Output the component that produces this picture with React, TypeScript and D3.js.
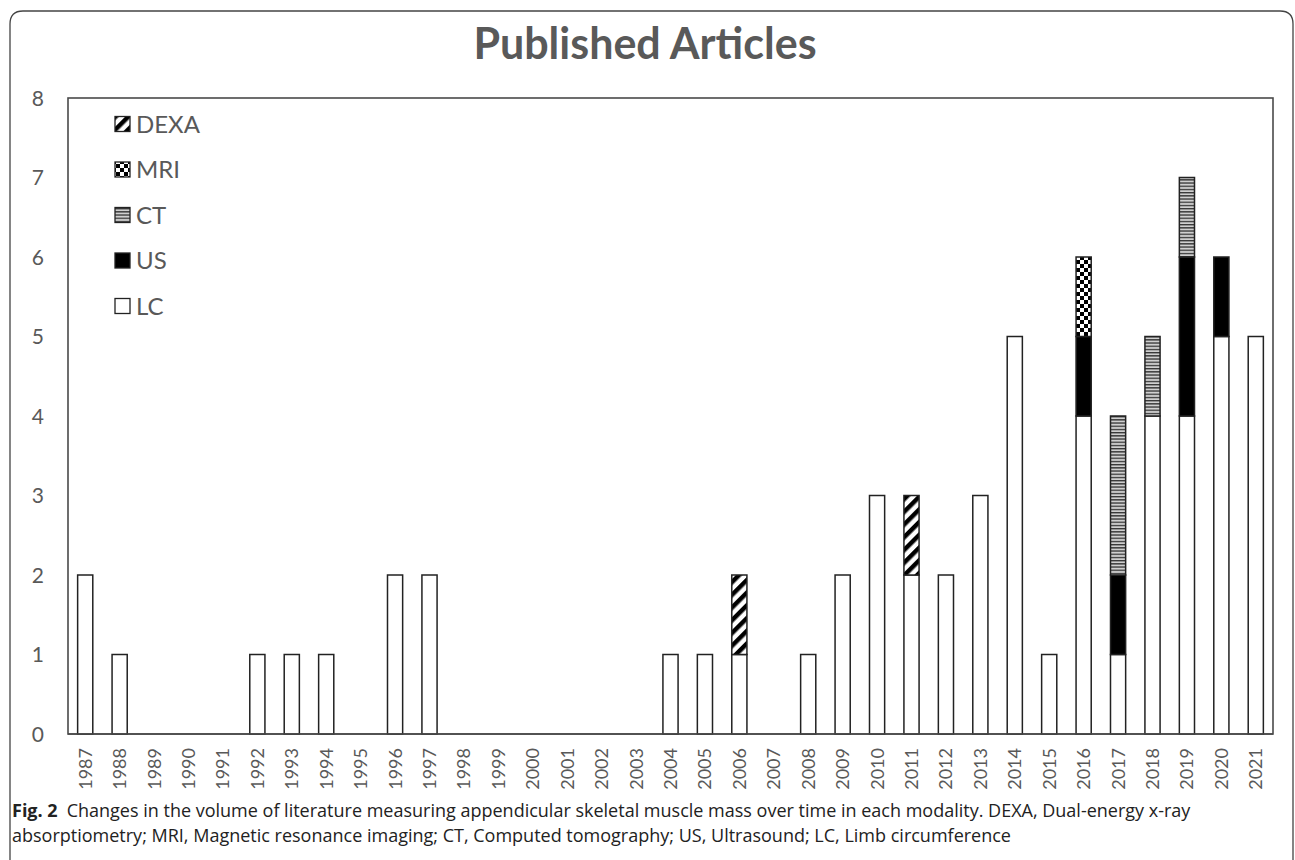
import React from "react";
import * as d3 from "d3";

const years = ["1987","1988","1989","1990","1991","1992","1993","1994","1995","1996","1997","1998","1999","2000","2001","2002","2003","2004","2005","2006","2007","2008","2009","2010","2011","2012","2013","2014","2015","2016","2017","2018","2019","2020","2021"];
const LC   = [2,1,0,0,0,1,1,1,0,2,2,0,0,0,0,0,0,1,1,1,0,1,2,3,2,2,3,5,1,4,1,4,4,5,5];
const US   = [0,0,0,0,0,0,0,0,0,0,0,0,0,0,0,0,0,0,0,0,0,0,0,0,0,0,0,0,0,1,1,0,2,1,0];
const CT   = [0,0,0,0,0,0,0,0,0,0,0,0,0,0,0,0,0,0,0,0,0,0,0,0,0,0,0,0,0,0,2,1,1,0,0];
const MRI  = [0,0,0,0,0,0,0,0,0,0,0,0,0,0,0,0,0,0,0,0,0,0,0,0,0,0,0,0,0,1,0,0,0,0,0];
const DEXA = [0,0,0,0,0,0,0,0,0,0,0,0,0,0,0,0,0,0,0,1,0,0,0,0,1,0,0,0,0,0,0,0,0,0,0];
const seriesKeys = ["LC", "US", "CT", "MRI", "DEXA"];
const legendKeys = ["DEXA", "MRI", "CT", "US", "LC"];
const yTicks = [0, 1, 2, 3, 4, 5, 6, 7, 8];
const title = "Published Articles";
const captionBold = "Fig. 2";
const captionLine1 = "Changes in the volume of literature measuring appendicular skeletal muscle mass over time in each modality. DEXA, Dual-energy x-ray";
const captionLine2 = "absorptiometry; MRI, Magnetic resonance imaging; CT, Computed tomography; US, Ultrasound; LC, Limb circumference";

const fills: Record<string, string> = {
  LC: "#ffffff",
  US: "#000000",
  CT: "url(#pCT)",
  MRI: "url(#pMRI)",
  DEXA: "url(#pDEXA)",
};

export default function App() {
  const W = 1295, H = 860;
  const left = 68, right = 1273, top = 98, bottom = 734;
  const x = d3.scaleBand<string>().domain(years).range([left, right]).paddingInner(0.56).paddingOuter(0.28);
  const y = d3.scaleLinear().domain([0, 8]).range([bottom, top]);
  const table = years.map((yr, i) => ({ year: yr, LC: LC[i], US: US[i], CT: CT[i], MRI: MRI[i], DEXA: DEXA[i] }));
  const stacked = d3.stack<any>().keys(seriesKeys)(table);
  const gray = "#595959";
  const chartFont = "Lato, 'Open Sans', sans-serif";
  const capFont = "'Open Sans', 'Noto Sans', sans-serif";

  return (
    <div style={{ position: "absolute", left: 0, top: 0 }}>
      <svg width={W} height={H} viewBox={`0 0 ${W} ${H}`} style={{ display: "block", background: "#fff" }}>
        <defs>
          <pattern id="pDEXA" patternUnits="userSpaceOnUse" width="9" height="9" patternTransform="rotate(45)">
            <rect width="9" height="9" fill="#fff" />
            <rect width="4.5" height="9" fill="#000" />
          </pattern>
          <pattern id="pMRI" patternUnits="userSpaceOnUse" width="8" height="8">
            <rect width="8" height="8" fill="#fff" />
            <rect width="4" height="4" fill="#000" />
            <rect x="4" y="4" width="4" height="4" fill="#000" />
          </pattern>
          <pattern id="pCT" patternUnits="userSpaceOnUse" width="6" height="3.2">
            <rect width="6" height="3.2" fill="#cfcfcf" />
            <rect y="0" width="6" height="1.3" fill="#333" />
          </pattern>
        </defs>

        {/* outer rounded border */}
        <path d={`M10,${H} L10,24 Q10,11 23,11 L1280,11 Q1293,11 1293,24 L1293,${H}`} fill="none" stroke="#444" strokeWidth={1.3} />

        {/* title */}
        <text x={645} y={59} textAnchor="middle" fontFamily={chartFont} fontWeight={700} fontSize={43} fill={gray}>{title}</text>

        {/* plot frame */}
        <rect x={left} y={top} width={right - left} height={bottom - top} fill="none" stroke="#4a4a4a" strokeWidth={1.6} />

        {/* y tick labels */}
        {yTicks.map((t) => (
          <text key={t} x={44} y={y(t)} dy="0.36em" textAnchor="end" fontFamily={chartFont} fontSize={21} fill={gray}>{t}</text>
        ))}

        {/* bars */}
        {stacked.map((s) => (
          <g key={s.key}>
            {s.filter((d) => d[1] - d[0] > 0).map((d) => (
              <rect key={d.data.year} x={x(d.data.year)} y={y(d[1])} width={x.bandwidth()} height={y(d[0]) - y(d[1])}
                fill={fills[s.key]} stroke="#222" strokeWidth={1.5} />
            ))}
          </g>
        ))}

        {/* baseline */}
        <line x1={left} x2={right} y1={bottom} y2={bottom} stroke="#4a4a4a" strokeWidth={1.6} />

        {/* x tick labels */}
        {years.map((yr) => {
          const cx = (x(yr) as number) + x.bandwidth() / 2;
          return (
            <text key={yr} transform={`translate(${cx},748) rotate(-90)`} dy="0.36em" textAnchor="end" fontFamily={chartFont} fontSize={18} fill={gray}>{yr}</text>
          );
        })}

        {/* legend */}
        {legendKeys.map((k, i) => {
          const cy = 124 + i * 45.5;
          return (
            <g key={k}>
              <rect x={115} y={cy - 7.5} width={15} height={15} fill={fills[k]} stroke="#222" strokeWidth={1.3} />
              <text x={136} y={cy} dy="0.36em" fontFamily={chartFont} fontSize={24} fill={gray}>{k}</text>
            </g>
          );
        })}

        {/* caption */}
        <text x={12} y={817} fontFamily={capFont} fontSize={18} fill="#222">
          <tspan fontWeight={700}>{captionBold}</tspan>
          <tspan dx={9}>{captionLine1}</tspan>
        </text>
        <text x={12} y={842} fontFamily={capFont} fontSize={18} fill="#222">{captionLine2}</text>
      </svg>
    </div>
  );
}
